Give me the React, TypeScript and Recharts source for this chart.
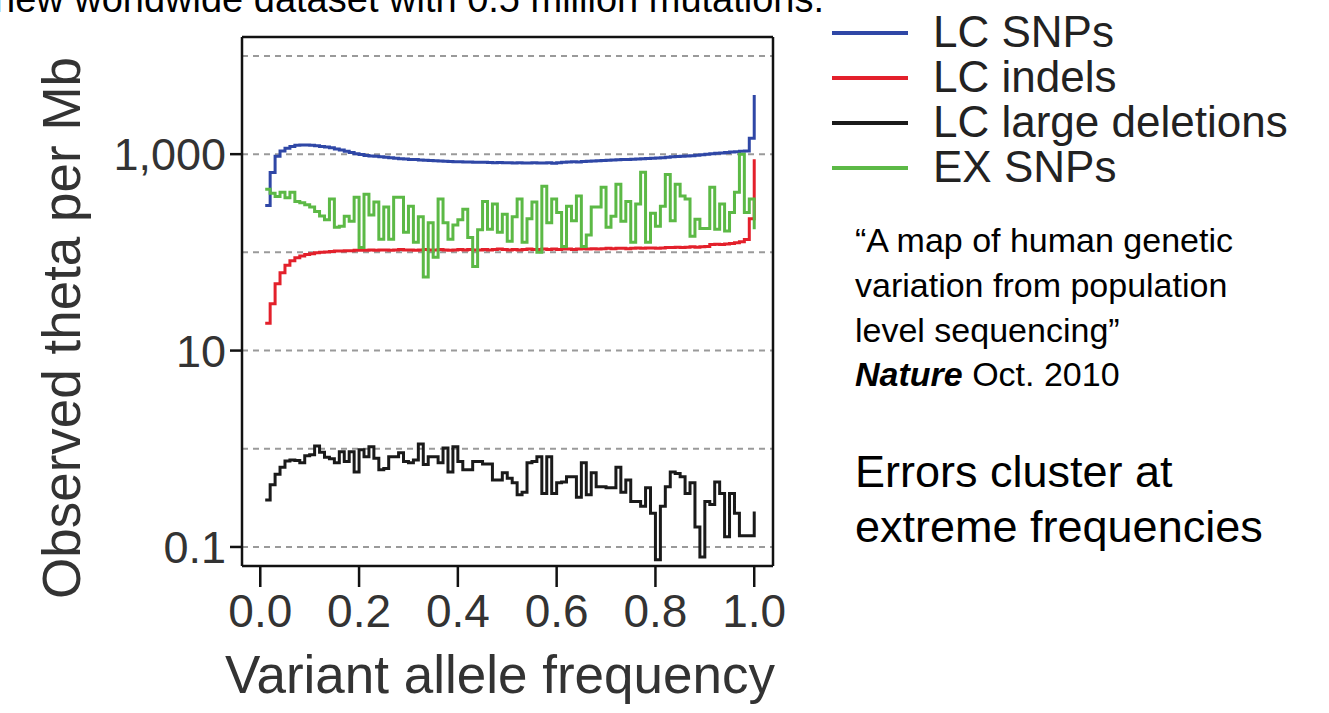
import React from 'react';
import {
  LineChart,
  Line,
  XAxis,
  YAxis,
  ReferenceLine,
  Legend,
} from 'recharts';

// ─────────────────────────────────────────────
// Data (log-scale theta per Mb)
// ─────────────────────────────────────────────

const freqs = [
  0.01, 0.02, 0.03, 0.04, 0.05, 0.06, 0.07, 0.08, 0.09, 0.1,
  0.11, 0.12, 0.13, 0.14, 0.15, 0.16, 0.17, 0.18, 0.19, 0.2,
  0.21, 0.22, 0.23, 0.24, 0.25, 0.26, 0.27, 0.28, 0.29, 0.3,
  0.31, 0.32, 0.33, 0.34, 0.35, 0.36, 0.37, 0.38, 0.39, 0.4,
  0.41, 0.42, 0.43, 0.44, 0.45, 0.46, 0.47, 0.48, 0.49, 0.5,
  0.51, 0.52, 0.53, 0.54, 0.55, 0.56, 0.57, 0.58, 0.59, 0.6,
  0.61, 0.62, 0.63, 0.64, 0.65, 0.66, 0.67, 0.68, 0.69, 0.7,
  0.71, 0.72, 0.73, 0.74, 0.75, 0.76, 0.77, 0.78, 0.79, 0.8,
  0.81, 0.82, 0.83, 0.84, 0.85, 0.86, 0.87, 0.88, 0.89, 0.9,
  0.91, 0.92, 0.93, 0.94, 0.95, 0.96, 0.97, 0.98, 0.99, 1.0,
];

const lcSnps = [
  300, 650, 950, 1080, 1150, 1200, 1230, 1240, 1240, 1230,
  1220, 1200, 1180, 1160, 1130, 1100, 1070, 1040, 1010, 990,
  970, 960, 950, 940, 930, 920, 910, 900, 895, 885,
  880, 870, 865, 860, 855, 850, 845, 840, 838, 835,
  832, 830, 828, 826, 825, 823, 820, 822, 818, 820,
  815, 818, 812, 815, 818, 812, 815, 820, 810, 818,
  825, 830, 835, 832, 840, 845, 850, 855, 860, 865,
  870, 875, 880, 885, 890, 895, 900, 905, 910, 915,
  920, 930, 940, 945, 950, 960, 965, 975, 985, 1000,
  1010, 1020, 1030, 1040, 1050, 1060, 1070, 1080, 1450, 4000,
];

const lcIndels = [
  19, 30, 48, 62, 74, 82, 88, 92, 95, 97,
  99, 100, 101, 102, 103, 103, 104, 104, 105, 105,
  105, 106, 105, 106, 106, 105, 106, 107, 106, 106,
  105, 106, 107, 106, 106, 107, 106, 105, 106, 107,
  106, 107, 106, 106, 107, 106, 107, 108, 107, 106,
  107, 106, 107, 108, 107, 107, 108, 107, 108, 107,
  108, 108, 107, 108, 109, 108, 109, 108, 109, 110,
  109, 110, 110, 109, 110, 111, 110, 111, 111, 110,
  111, 112, 112, 113, 112, 113, 114, 113, 114, 115,
  120, 121, 120, 122, 123, 125, 128, 135, 220, 890,
];

const lcLargeDeletions = [
  0.3, 0.43, 0.55, 0.65, 0.75, 0.77, 0.76, 0.72, 0.85, 0.87,
  1.07, 0.92, 0.82, 0.79, 0.72, 0.93, 0.74, 0.93, 0.58, 0.98,
  0.83, 1.05, 0.8, 0.61, 0.63, 0.83, 0.83, 0.91, 0.74, 0.72,
  0.77, 1.12, 0.69, 0.83, 0.83, 0.72, 1.02, 0.58, 1.05, 0.74,
  0.61, 0.61, 0.74, 0.74, 0.7, 0.7, 0.48, 0.48, 0.57, 0.5,
  0.45, 0.34, 0.36, 0.72, 0.74, 0.83, 0.35, 0.83, 0.35, 0.45,
  0.46, 0.52, 0.52, 0.32, 0.72, 0.34, 0.57, 0.41, 0.41, 0.4,
  0.4, 0.65, 0.36, 0.48, 0.29, 0.29, 0.26, 0.4, 0.22, 0.074,
  0.26, 0.41, 0.58, 0.56, 0.52, 0.35, 0.45, 0.16, 0.079, 0.29,
  0.27, 0.46, 0.35, 0.127, 0.35, 0.22, 0.13, 0.13, 0.13, 0.23,
];

const exSnps = [
  440, 400, 370, 410, 360, 410, 330, 320, 305, 290,
  260, 235, 215, 350, 180, 185, 233, 207, 365, 112,
  390, 240, 325, 136, 290, 136, 365, 365, 160, 295,
  127, 230, 56, 200, 89, 350, 200, 136, 190, 215,
  275, 142, 72, 170, 330, 172, 310, 160, 245, 130,
  230, 350, 127, 220, 325, 100, 470, 200, 350, 255,
  115, 295, 210, 375, 115, 150, 290, 290, 460, 180,
  233, 495, 207, 330, 127, 310, 655, 127, 250, 185,
  295, 620, 210, 495, 375, 350, 146, 217, 175, 175,
  460, 172, 310, 165, 255, 410, 1000, 255, 350, 172,
];

const xTicks = [0, 0.2, 0.4, 0.6, 0.8, 1.0];
const yTicks = [0.1, 10, 1000];
const gridDecades = [0.1, 1, 10, 100, 1000, 10000];

const series = [
  { key: 'lcSnps', name: 'LC SNPs', color: '#2f47a6' },
  { key: 'lcIndels', name: 'LC indels', color: '#e3202b' },
  { key: 'lcLargeDel', name: 'LC large deletions', color: '#1a1a1a' },
  { key: 'exSnps', name: 'EX SNPs', color: '#5cb946' },
];

const data = freqs.map((f, i) => ({
  freq: f,
  lcSnps: lcSnps[i],
  lcIndels: lcIndels[i],
  lcLargeDel: lcLargeDeletions[i],
  exSnps: exSnps[i],
}));

const FONT = '"Liberation Sans", Arial, Helvetica, sans-serif';
const xDomain = [-0.037, 1.038];
const yDomain = [0.064, 15600];
const frame = { stroke: '#111', strokeWidth: 2.5 };

function LegendBox() {
  return (
    <svg width={500} height={200} style={{ display: 'block' }}>
      {series.map((s, i) => (
        <g key={s.key}>
          <line
            x1={12}
            x2={88}
            y1={33 + i * 45}
            y2={33 + i * 45}
            stroke={s.color}
            strokeWidth={4}
          />
          <text
            x={113}
            y={47 + i * 45}
            fontSize={44}
            fontFamily={FONT}
            fill="#222"
          >
            {s.name}
          </text>
        </g>
      ))}
    </svg>
  );
}

export default function App() {
  return (
    <div
      style={{
        position: 'absolute',
        left: 0,
        top: 0,
        width: 1329,
        height: 713,
        background: '#fff',
        fontFamily: FONT,
      }}
    >
      <LineChart
        width={1329}
        height={713}
        data={data}
        margin={{ top: 37, right: 556, bottom: 0, left: 0 }}
      >
        {gridDecades.map((v) => (
          <ReferenceLine
            key={v}
            y={v}
            stroke="#9a9a9a"
            strokeWidth={2}
            strokeDasharray="6 5"
          />
        ))}
        {/* box frame: top and right edges */}
        <ReferenceLine y={yDomain[1]} stroke="#111" strokeWidth={2.5} />
        <ReferenceLine x={xDomain[1]} stroke="#111" strokeWidth={2.5} />
        <XAxis
          dataKey="freq"
          type="number"
          domain={xDomain}
          allowDataOverflow
          ticks={xTicks}
          tickFormatter={(v: number) => v.toFixed(1)}
          height={147}
          tickSize={21}
          tickMargin={7}
          axisLine={frame}
          tickLine={frame}
          tick={{ fontSize: 46, fill: '#333', fontFamily: FONT }}
          label={{
            content: () => (
              <text
                x={500}
                y={693}
                textAnchor="middle"
                fontSize={53}
                fontFamily={FONT}
                fill="#333"
              >
                Variant allele frequency
              </text>
            ),
          }}
        />
        <YAxis
          type="number"
          scale="log"
          domain={yDomain}
          allowDataOverflow
          ticks={yTicks}
          tickFormatter={(v: number) => v.toLocaleString('en-US')}
          width={242}
          tickSize={12}
          tickMargin={4}
          axisLine={frame}
          tickLine={frame}
          tick={{ fontSize: 45, fill: '#333', fontFamily: FONT }}
          label={{
            content: () => (
              <text
                x={80}
                y={328}
                transform="rotate(-90, 80, 328)"
                textAnchor="middle"
                fontSize={53}
                fontFamily={FONT}
                fill="#333"
              >
                Observed theta per Mb
              </text>
            ),
          }}
        />
        {series.map((s) => (
          <Line
            key={s.key}
            dataKey={s.key}
            name={s.name}
            type="stepAfter"
            stroke={s.color}
            strokeWidth={3}
            dot={false}
            isAnimationActive={false}
          />
        ))}
        <Legend
          layout="horizontal"
          verticalAlign="middle"
          align="center"
          content={() => <LegendBox />}
          wrapperStyle={{ left: 820, top: 0, width: 500, height: 200 }}
        />
      </LineChart>

      {/* side annotations */}
      <svg
        width={1329}
        height={713}
        style={{ position: 'absolute', left: 0, top: 0, pointerEvents: 'none' }}
        fontFamily={FONT}
      >
        <text x={-6} y={12} fontSize={38} fill="#000">
          new worldwide dataset with 0.5 million mutations:
        </text>
        <g fontSize={34} fill="#000">
          <text x={855} y={252}>“A map of human genetic</text>
          <text x={855} y={297}>variation from population</text>
          <text x={855} y={342}>level sequencing”</text>
          <text x={855} y={386}>
            <tspan fontWeight="bold" fontStyle="italic">
              Nature
            </tspan>
            <tspan> Oct. 2010</tspan>
          </text>
        </g>
        <g fontSize={45} fill="#000">
          <text x={855} y={487}>Errors cluster at</text>
          <text x={855} y={542}>extreme frequencies</text>
        </g>
      </svg>
    </div>
  );
}
